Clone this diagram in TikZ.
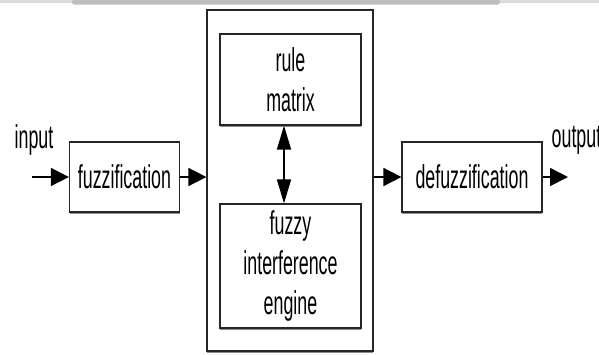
\documentclass[tikz,border=0pt]{standalone}
\usepackage{fontspec}
\setmainfont{Liberation Sans}
\usetikzlibrary{arrows.meta,shadows}

\newcommand{\nar}[1]{\scalebox{0.54}[1]{#1}}

\begin{document}
\begin{tikzpicture}[x=1pt, y=-1pt,
    blk/.style={draw=black!85, fill=white, line width=1.2pt, inner sep=0pt,
      align=center, font=\fontsize{33}{40}\selectfont,
      drop shadow={shadow xshift=0pt, shadow yshift=-1.8pt, fill=black!45, opacity=1}},
    lbl/.style={inner sep=0pt, font=\fontsize{33}{40}\selectfont},
    hflow/.style={line width=1.6pt, -{Triangle[length=18pt 0, width=18pt 0]}},
    vflow/.style={line width=1.6pt, {Triangle[length=24pt 0, width=14pt 0]}-{Triangle[length=24pt 0, width=14pt 0]}}]
  \useasboundingbox (0,0) rectangle (599,354);
  \fill[black!14] (0,0) rectangle (599,2.5);
  \fill[black!26, rounded corners=2pt] (72,0) rectangle (500,4.5);

  \node[blk, minimum width=166pt, minimum height=341pt, drop shadow={opacity=0}] (rb) at (290,180.5) {};
  \node[blk, minimum width=141pt, minimum height=91pt] (rules) at (290.5,79.5)
    {\nar{rule}\\\nar{matrix}};
  \node[blk, minimum width=141pt, minimum height=124pt] (fie) at (290.5,266)
    {\nar{fuzzy}\\\nar{interference}\\\nar{engine}};
  \node[blk, minimum width=110pt, minimum height=70pt] (fz) at (124.5,177) {\nar{fuzzification}};
  \node[blk, minimum width=140pt, minimum height=70pt] (dfz) at (472,177) {\nar{defuzzification}};

  \coordinate (in) at (32,177);
  \coordinate (out) at (568,177);
  \node[lbl, anchor=base] (inlbl) at (34,148) {\nar{input}};
  \node[lbl, anchor=base west] (outlbl) at (551.5,147) {\nar{output}};

  \draw[hflow] (in) -- (fz.west);
  \draw[hflow] (fz.east) -- (fz.east -| rb.west);
  \draw[hflow] (dfz.west -| rb.east) -- (dfz.west);
  \draw[hflow] (dfz.east) -- (out);
  \draw[vflow] (rules.south) ++(-6.5,0) coordinate (rs) (rs) -- (rs |- fie.north);
\end{tikzpicture}
\end{document}
